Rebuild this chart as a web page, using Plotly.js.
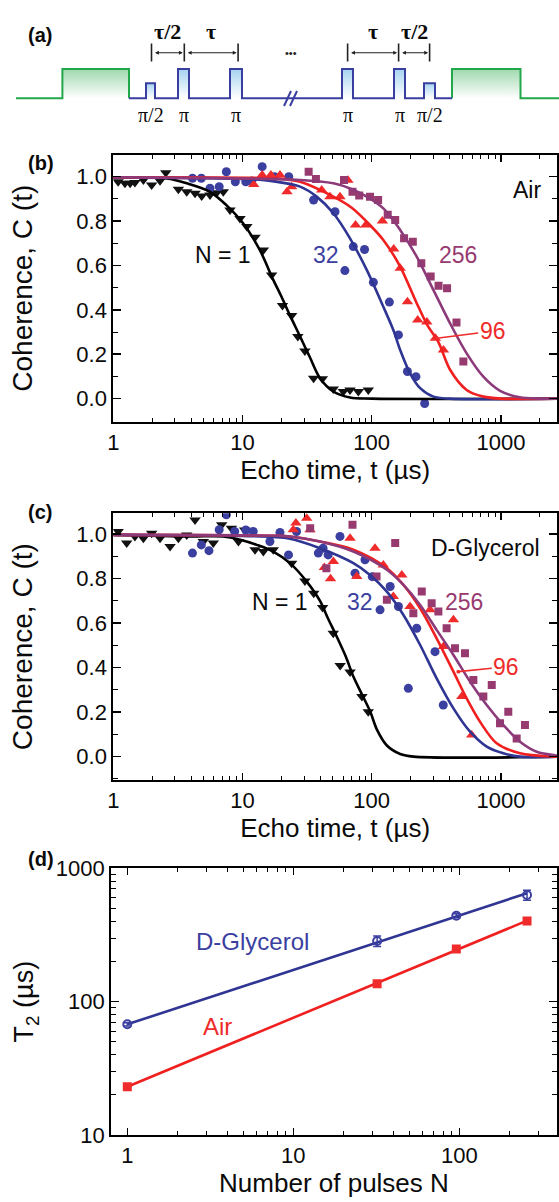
<!DOCTYPE html>
<html><head><meta charset="utf-8">
<script src="https://cdn.plot.ly/plotly-3.0.1.min.js"></script>
<style>html,body{margin:0;padding:0;background:#fff;} #chart{width:559px;height:1202px;}</style>
</head><body><div id="chart"></div>
<script>
// ================= DATA =================
// (a) pulse sequence schematic (schematic units)
const seqBase = 98.3, seqPiTop = 69, seqHalfTop = 83.3;
const seqStartX = 16, seqEndX = 559;
const greenPulseStart = [62.4, 452];
const greenPulseEnd = [129, 520.5];
const bluePulseStart = [146, 178, 230, 342, 394, 424];
const bluePulseEnd = [155, 189, 242, 353, 405, 435];
const bluePulseTop = [83.3, 69, 69, 69, 69, 83.3];
const pulseLabels = ['π/2', 'π', 'π', 'π', 'π', 'π/2'];
const bracketTicksLeft = [151.5, 184.3, 238.1];
const bracketTicksRight = [347.6, 398.6, 429.6];
const bracketLabelsLeft = ['τ/2', 'τ'];
const bracketLabelsRight = ['τ', 'τ/2'];

// (b) Air: echo time (µs) and coherence
const airN1_t = [1.09,1.23,1.35,1.47,1.71,1.98,2.30,2.55,3.19,3.70,4.29,4.83,5.60,6.31,7.10,8.0,9.56,10.8,12.5,14.5,16.8,20.4,24,26.8,30.4,35.5,41.5,50.4,60.3,67.9,78.8,94.1];
const airN1_C = [0.977,0.970,0.970,0.974,0.985,0.962,0.982,1.018,0.943,0.932,0.925,0.913,0.917,0.928,0.932,0.85,0.812,0.775,0.727,0.670,0.557,0.42,0.375,0.28,0.215,0.092,0.09,0.043,0.032,0.039,0.032,0.039];
const airN32_t = [4.1,4.8,5.6,6.6,7.5,8.8,10.6,11.8,14.2,17.7,22.8,35.5,52,62,72,88,103,137,161,189,220,257];
const airN32_C = [0.993,0.993,0.948,0.955,1.022,0.977,0.977,0.98,1.045,1.0,1.0,0.895,0.842,0.577,0.685,0.672,0.524,0.435,0.287,0.122,0.099,-0.022];
const airN96_t = [12.2,14.2,16.6,19.5,22.1,24,41,47.5,56.8,65.5,75,90,121,148,166,189,227,267,311,359];
const airN96_C = [0.965,1.008,1.008,1.008,0.932,0.955,0.94,0.91,0.91,0.984,0.782,0.782,0.80,0.674,0.587,0.437,0.354,0.345,0.272,0.219];
const airN256_t = [32.5,37,61,71,80,97,112,133,152,178,208,242,286,329,383,453,512];
const airN256_C = [1.022,0.99,0.985,0.932,0.915,0.91,0.895,0.828,0.805,0.722,0.707,0.61,0.55,0.508,0.497,0.343,0.167];
// (b) fit curves
const airFit1_t = [1,2.6,3.7,5.6,7.5,10.1,13.6,17.3,20,23.3,27.9,33.3,39.8,50.5,67.9,100,3000];
const airFit1_C = [0.997,0.992,0.97,0.932,0.872,0.79,0.67,0.535,0.46,0.375,0.28,0.185,0.092,0.032,0.005,0,0];
const airFit32_t = [1,10,17,27.9,37.5,50.5,67.9,91.5,123,147,166,198,237,300,404,3000];
const airFit32_C = [0.997,0.99,0.98,0.955,0.91,0.835,0.722,0.58,0.414,0.309,0.219,0.114,0.047,0.009,0,0];
const airFit96_t = [1,20,27.9,50.5,70,91.5,123,166,223,270,328,404,543,731,1000,3000];
const airFit96_C = [0.997,0.99,0.977,0.91,0.86,0.797,0.715,0.595,0.43,0.33,0.255,0.13,0.039,0.009,0,0];
const airFit256_t = [1,27.9,50.5,67.9,91.5,123,166,223,300,404,543,731,986,1400,2000,3000];
const airFit256_C = [0.997,0.985,0.97,0.947,0.91,0.857,0.76,0.64,0.49,0.339,0.204,0.099,0.035,0.006,0,0];

// (c) D-Glycerol
const glyN1_t = [1.09,1.27,1.47,1.71,1.98,2.30,2.75,3.19,3.70,4.29,4.97,5.94,6.9,8.2,9.3,10.4,12.5,14.5,17.3,24,30.4,35.6,41.7,50.4,57,68,84,94];
const glyN1_C = [1.012,0.96,0.99,0.982,1.004,0.982,0.945,0.982,0.997,1.064,0.967,0.96,1.042,1.027,0.967,1.019,0.93,0.922,0.93,0.87,0.79,0.735,0.67,0.555,0.41,0.38,0.27,0.202];
const glyN32_t = [4.1,4.8,5.5,6.6,7.5,8.7,10.6,12.1,16.3,19.5,22.7,26.2,38.6,42,46,56.8,74.3,88.7,101,116,139,161,192,223,309,358];
const glyN32_C = [0.915,0.952,0.926,1.02,1.087,1.012,1.019,1.012,0.967,1.008,0.907,1.012,0.915,0.937,0.907,0.99,0.825,0.885,0.809,0.66,0.765,0.675,0.307,0.577,0.472,0.232];
const glyN96_t = [24.7,25.9,31.4,33.3,43,48,50.5,68,76.6,106,123,147,171,198,283,359,429,498,594];
const glyN96_C = [1.02,1.05,1.072,1.02,0.85,0.80,0.877,0.982,0.81,0.937,0.862,0.72,0.817,0.675,0.66,0.495,0.615,0.27,0.097];
const glyN256_t = [33.4,44.6,71,109,131,152,210,244,291,328,380,441,527,612,731,849,984,1140,1324,1535];
const glyN256_C = [1.027,0.847,1.042,0.81,0.705,0.96,0.645,0.742,0.69,0.652,0.577,0.487,0.465,0.345,0.27,0.322,0.15,0.202,0.082,0.142];
const glyFit1_t = [1,3.9,7.1,9.6,12.9,17.3,23.3,31.4,39.8,46,53.6,63,72.1,84,97,110,131,166,210,3000];
const glyFit1_C = [0.997,0.99,0.99,0.975,0.952,0.922,0.87,0.787,0.70,0.62,0.54,0.45,0.36,0.28,0.205,0.12,0.05,0.012,0,0];
const glyFit32_t = [1,10,23.3,39.8,72.1,97,131,176,237,318,429,577,776,1044,1410,3000];
const glyFit32_C = [0.997,0.992,0.98,0.937,0.87,0.817,0.742,0.637,0.502,0.352,0.217,0.112,0.045,0.015,0,0];
const glyFit96_t = [1,10,23.3,39.8,72.1,131,176,237,318,429,543,689,927,1406,2545,3000];
const glyFit96_C = [0.997,0.995,0.99,0.967,0.93,0.847,0.772,0.667,0.532,0.382,0.262,0.157,0.06,0.015,0,0];
const glyFit256_t = [1,10,23.3,39.8,72.1,131,176,237,318,429,577,776,1044,1406,1890,2720,3000];
const glyFit256_C = [0.997,0.995,0.99,0.967,0.922,0.84,0.772,0.682,0.57,0.457,0.337,0.232,0.142,0.067,0.022,0.005,0.003];

// (d) T2 vs number of pulses
const pulsesN = [1, 32, 96, 256];
const airT2 = [23.0, 136, 248, 403];
const glyT2 = [67.6, 285, 441, 631];
const glyT2err = [2, 26, 15, 54];
const fitN = [1, 256];
const airT2fit = [23.0, 405];
const glyT2fit = [67.6, 650];

// tick values
const echoMinorTicks = [2,3,4,5,6,7,8,9,20,30,40,50,60,70,80,90,200,300,400,500,600,700,800,900,2000];
const pulsesMinorTicks = [2,3,4,5,6,7,8,9,20,30,40,50,60,70,80,90,200,300];
const t2MinorTicks = [20,30,40,50,60,70,80,90,200,300,400,500,600,700,800,900];

// ================= STYLE =================
const FONT = 'Liberation Sans, Arial, Helvetica, sans-serif';
const SERIF = 'Liberation Serif, Times New Roman, serif';
const cBlack = '#111111', cBlue = '#3b3f9f', cRed = '#ef2b2b', cPurple = '#973a6f';
const lBlack = '#000000', lBlue = '#2f3592', lRed = '#f02020', lPurple = '#8c3a7a';
const cGreen = '#22a84a', cSeqBlue = '#3a3ea0';
const TXT = '#0a0a0a';
const W = 559, H = 1202;
const px = v => v / W, py = v => 1 - v / H;

const traces = [];
const shapes = [];
const annotations = [];

// ---------- (a) schematic ----------
function gradFill(xs, ys, top, color) {
  traces.push({type:'scatter', mode:'lines', x: xs, y: ys, xaxis:'x', yaxis:'y',
    fill:'toself', line:{width:0, color:'rgba(0,0,0,0)'}, hoverinfo:'skip',
    fillgradient:{type:'vertical', start: seqBase, stop: top,
      colorscale:[[0,'rgba(255,255,255,1)'],[1,color]]}});
}
for (let i = 0; i < greenPulseStart.length; i++) {
  const s = greenPulseStart[i], e = greenPulseEnd[i];
  gradFill([s, s, e, e], [seqBase, seqPiTop, seqPiTop, seqBase], seqPiTop, '#9fd8ae');
}
for (let i = 0; i < bluePulseStart.length; i++) {
  const s = bluePulseStart[i], e = bluePulseEnd[i], t = bluePulseTop[i];
  gradFill([s, s, e, e], [seqBase, t, t, seqBase], t, '#a6d3f0');
}
traces.push({type:'scatter', mode:'lines', xaxis:'x', yaxis:'y', hoverinfo:'skip',
  x:[seqStartX, greenPulseStart[0], greenPulseStart[0], greenPulseEnd[0], greenPulseEnd[0]],
  y:[seqBase, seqBase, seqPiTop, seqPiTop, seqBase], line:{color:cGreen, width:2}});
traces.push({type:'scatter', mode:'lines', xaxis:'x', yaxis:'y', hoverinfo:'skip',
  x:[greenPulseStart[1], greenPulseStart[1], greenPulseEnd[1], greenPulseEnd[1], seqEndX],
  y:[seqBase, seqPiTop, seqPiTop, seqBase, seqBase], line:{color:cGreen, width:2}});
(function(){
  const xs = [greenPulseEnd[0]], ys = [seqBase];
  for (let i = 0; i < bluePulseStart.length; i++) {
    const s = bluePulseStart[i], e = bluePulseEnd[i], t = bluePulseTop[i];
    xs.push(s, s, e, e); ys.push(seqBase, t, t, seqBase);
  }
  xs.push(greenPulseStart[1]); ys.push(seqBase);
  traces.push({type:'scatter', mode:'lines', x:xs, y:ys, xaxis:'x', yaxis:'y', hoverinfo:'skip',
    line:{color:cSeqBlue, width:2}});
})();
[[284,106,291,91],[290,106,297,91]].forEach(s => shapes.push({type:'line', xref:'x', yref:'y',
  x0:s[0], y0:s[1], x1:s[2], y1:s[3], line:{color:cSeqBlue, width:2}}));
for (let i = 0; i < bluePulseStart.length; i++) {
  annotations.push({xref:'x', yref:'y', x:(bluePulseStart[i]+bluePulseEnd[i])/2, y:115,
    text:pulseLabels[i], showarrow:false, font:{family:SERIF, size:20, color:TXT}});
}
function brackets(ticks, labels) {
  ticks.forEach(x => shapes.push({type:'line', xref:'x', yref:'y', x0:x, x1:x, y0:43.5, y1:61.5,
    line:{color:'#222', width:1.6}}));
  for (let i = 0; i < ticks.length - 1; i++) {
    annotations.push({xref:'x', yref:'y', axref:'x', ayref:'y', x:ticks[i+1]-1.5, y:52.7,
      ax:ticks[i]+1.5, ay:52.7, text:' ', showarrow:true, arrowside:'end+start',
      arrowhead:2, startarrowhead:2, arrowsize:0.7, startarrowsize:0.7, arrowwidth:1.1, arrowcolor:'#222',
      font:{size:4}});
    annotations.push({xref:'x', yref:'y', x:(ticks[i]+ticks[i+1])/2, y:31.5, text:'<b>'+labels[i]+'</b>',
      showarrow:false, font:{family:SERIF, size:22, color:TXT}});
  }
}
brackets(bracketTicksLeft, bracketLabelsLeft);
brackets(bracketTicksRight, bracketLabelsRight);
annotations.push({xref:'x', yref:'y', x:290.5, y:53, text:'•••', showarrow:false,
  font:{family:FONT, size:11, color:'#222'}});

// ---------- (b), (c) ----------
function markers(xa, ya, t, c, sym, col, size) {
  traces.push({type:'scatter', mode:'markers', x:t, y:c, xaxis:xa, yaxis:ya,
    marker:{symbol:sym, color:col, size:size, line:{width:0}}, cliponaxis:true});
}
function fit(xa, ya, t, c, col) {
  traces.push({type:'scatter', mode:'lines', x:t, y:c, xaxis:xa, yaxis:ya,
    line:{color:col, width:2.6, shape:'spline', smoothing:0.9}});
}
markers('x2','y2', airN1_t, airN1_C, 'triangle-down', cBlack, 10);
markers('x2','y2', airN32_t, airN32_C, 'circle', cBlue, 9);
markers('x2','y2', airN96_t, airN96_C, 'triangle-up', cRed, 10);
markers('x2','y2', airN256_t, airN256_C, 'square', cPurple, 8);
fit('x2','y2', airFit1_t, airFit1_C, lBlack);
fit('x2','y2', airFit32_t, airFit32_C, lBlue);
fit('x2','y2', airFit96_t, airFit96_C, lRed);
fit('x2','y2', airFit256_t, airFit256_C, lPurple);

markers('x3','y3', glyN1_t, glyN1_C, 'triangle-down', cBlack, 10);
markers('x3','y3', glyN32_t, glyN32_C, 'circle', cBlue, 9);
markers('x3','y3', glyN96_t, glyN96_C, 'triangle-up', cRed, 10);
markers('x3','y3', glyN256_t, glyN256_C, 'square', cPurple, 8);
fit('x3','y3', glyFit1_t, glyFit1_C, lBlack);
fit('x3','y3', glyFit32_t, glyFit32_C, lBlue);
fit('x3','y3', glyFit96_t, glyFit96_C, lRed);
fit('x3','y3', glyFit256_t, glyFit256_C, lPurple);

// ---------- (d) ----------
traces.push({type:'scatter', mode:'lines', x:fitN, y:glyT2fit, xaxis:'x4', yaxis:'y4',
  line:{color:lBlue, width:2.6}});
traces.push({type:'scatter', mode:'lines', x:fitN, y:airT2fit, xaxis:'x4', yaxis:'y4',
  line:{color:lRed, width:2.6}});
traces.push({type:'scatter', mode:'markers', x:pulsesN, y:glyT2, xaxis:'x4', yaxis:'y4',
  marker:{symbol:'circle-open', color:cBlue, size:8, line:{width:2}},
  error_y:{type:'data', array:glyT2err, color:cBlue, thickness:1.5, width:4}});
traces.push({type:'scatter', mode:'markers', x:pulsesN, y:airT2, xaxis:'x4', yaxis:'y4',
  marker:{symbol:'square', color:cRed, size:9}});

// ---------- text annotations ----------
function txt(xref, yref, x, y, text, color, size, extra) {
  annotations.push(Object.assign({xref, yref, x, y, text, showarrow:false,
    font:{family:FONT, size:size||23, color:color||TXT}}, extra||{}));
}
txt('x2','y2', 0.8475, 0.647, 'N = 1', TXT);
txt('x2','y2', 1.646, 0.647, '32', cBlue);
txt('x2','y2', 2.668, 0.647, '256', cPurple);
txt('x2','y2', 3.2, 0.94, 'Air', TXT);
annotations.push({xref:'x2', yref:'y2', x:2.503, y:0.272, text:'96', showarrow:true,
  ax:56, ay:-7, arrowhead:6, arrowsize:0.6, arrowwidth:1.6, arrowcolor:cRed, standoff:0,
  font:{family:FONT, size:23, color:cRed}});
txt('x3','y3', 1.29, 0.697, 'N = 1', TXT);
txt('x3','y3', 1.909, 0.697, '32', cBlue);
txt('x3','y3', 2.711, 0.697, '256', cPurple);
txt('x3','y3', 2.877, 0.937, 'D-Glycerol', TXT);
annotations.push({xref:'x3', yref:'y3', x:2.67, y:0.382, text:'96', showarrow:true,
  ax:48, ay:-5, arrowhead:6, arrowsize:0.6, arrowwidth:1.6, arrowcolor:cRed, standoff:0,
  font:{family:FONT, size:23, color:cRed}});
txt('x4','y4', 0.757, 2.45, 'D-Glycerol', cBlue, 24);
txt('x4','y4', 0.546, 1.812, 'Air', cRed, 24);

[['(a)',21.7],['(b)',150],['(c)',512],['(d)',872]].forEach(p =>
  txt('paper','paper', px(26), py(p[1]), '<b>'+p[0]+'</b>', TXT, 20));

// ================= AXES =================
const axisCommon = {showline:true, linecolor:'#000', linewidth:2, mirror:'allticks',
  ticks:'inside', tickcolor:'#000', tickwidth:1.5, showgrid:false, zeroline:false,
  tickfont:{family:FONT, size:22, color:TXT}, fixedrange:true};
function logX(domain, range, title, anchor, minorVals) {
  return Object.assign({}, axisCommon, {type:'log', domain, range, anchor, dtick:1, ticklen:7,
    minor:{ticks:'inside', ticklen:4, tickwidth:1, tickcolor:'#000', tickmode:'array', tickvals:minorVals},
    title:{text:title, font:{family:FONT, size:26, color:TXT}, standoff:2}});
}
function cohY(domain, range, anchor) {
  return Object.assign({}, axisCommon, {domain, range, anchor, dtick:0.2, tick0:0, tickformat:'.1f',
    ticklen:8, minor:{ticks:'inside', ticklen:5, tickwidth:1, tickcolor:'#000', dtick:0.1},
    title:{text:'Coherence, C (t)', font:{family:FONT, size:28, color:TXT}, standoff:35}});
}
const xdomBC = [px(113.3), px(557)];
const layout = {
  width:W, height:H, margin:{l:0, r:0, t:0, b:0}, paper_bgcolor:'#fff', plot_bgcolor:'#fff',
  showlegend:false, font:{family:FONT, color:TXT},
  xaxis:{domain:[0,1], range:[0,559], visible:false, fixedrange:true, anchor:'y'},
  yaxis:{domain:[py(120),1], range:[120,0], visible:false, fixedrange:true, anchor:'x'},
  xaxis2: logX(xdomBC, [0, 3.434], 'Echo time, t (µs)', 'y2', echoMinorTicks),
  yaxis2: cohY([py(421.7), py(154.7)], [-0.104, 1.099], 'x2'),
  xaxis3: logX(xdomBC, [0, 3.434], 'Echo time, t (µs)', 'y3', echoMinorTicks),
  yaxis3: cohY([py(780), py(513.3)], [-0.105, 1.094], 'x3'),
  xaxis4: logX([px(111.2), px(556.7)], [-0.097, 2.587], 'Number of pulses N', 'y4', pulsesMinorTicks),
  yaxis4: Object.assign({}, axisCommon, {type:'log', domain:[py(1135), py(868.3)], range:[1,3],
    anchor:'x4', dtick:1, ticklen:8,
    minor:{ticks:'inside', ticklen:5, tickwidth:1, tickcolor:'#000', tickmode:'array', tickvals:t2MinorTicks},
    title:{text:'T<sub>2</sub> (µs)', font:{family:FONT, size:27, color:TXT}, standoff:14}}),
  shapes, annotations
};
Plotly.newPlot('chart', traces, layout, {displayModeBar:false, staticPlot:true});
</script></body></html>
